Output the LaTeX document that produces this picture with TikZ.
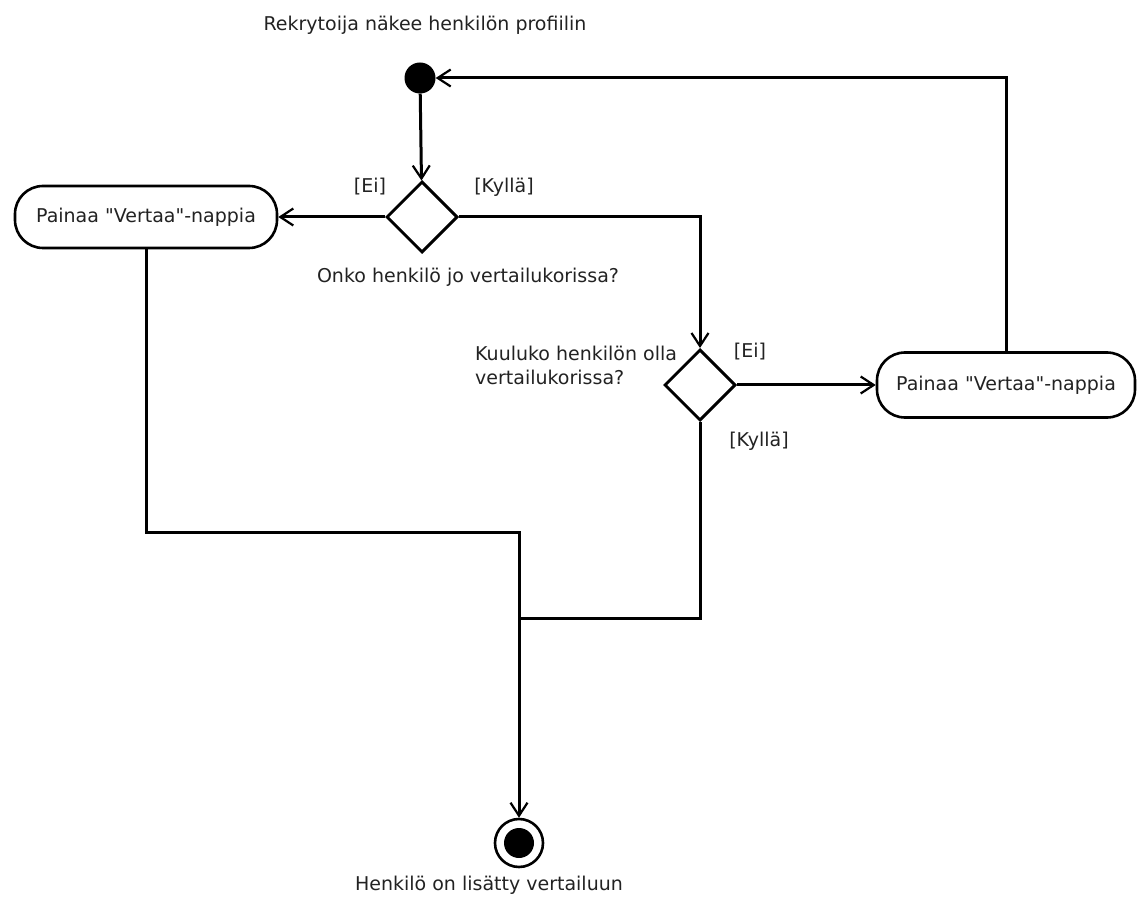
\documentclass[tikz,border=0pt]{standalone}
\usepackage{fontspec}
\setmainfont{DejaVu Sans}[Ligatures=TeXOff]
\usetikzlibrary{arrows.meta,shapes.geometric}
\definecolor{ink}{HTML}{222222}
\tikzset{
  every node/.style={font=\fontsize{19}{24}\selectfont, text=ink},
  line/.style={line width=3pt, draw=black},
  flow/.style={line, -{Straight Barb[length=13pt,width=17pt,line width=2.2pt]}},
  action/.style={draw=black, line width=2.6pt, rounded corners=28pt,
    minimum width=262pt, minimum height=62pt, inner sep=0pt},
  decision/.style={draw=black, line width=3pt, diamond, minimum width=71pt,
    minimum height=71pt, inner sep=0pt},
  startdot/.style={circle, fill=black, minimum size=31pt, inner sep=0pt},
  enddot/.style={circle, draw=black, line width=2.6pt, fill=white,
    minimum size=48pt, inner sep=0pt,
    path picture={\fill[black] (path picture bounding box.center) circle (15pt);}},
  label/.style={inner sep=0pt}
}
\begin{document}
\begin{tikzpicture}[x=1pt,y=-1pt]
\useasboundingbox (0,0) rectangle (1144,909);

% nodes
\node[startdot] (start) at (420,78) {};
\node[label] (title) at (425,25) {Rekrytoija näkee henkilön profiilin};

\node[decision] (d1) at (422,217) {};
\node[label] (d1ei) at (370,187) {[Ei]};
\node[label] (d1ky) at (504,187) {[Kyllä]};
\node[label] (d1q) at (468,277) {Onko henkilö jo vertailukorissa?};

\node[action] (a1) at (146,217) {Painaa "Vertaa"-nappia};

\node[decision] (d2) at (700,385) {};
\node[label] (d2ei) at (750,352) {[Ei]};
\node[label] (d2ky) at (759,441) {[Kyllä]};
\node[label, anchor=north west, align=left] (d2q) at (475,346)
  {Kuuluko henkilön olla\\vertailukorissa?};

\node[action, minimum width=258pt, minimum height=65pt] (a2) at (1006,385)
  {Painaa "Vertaa"-nappia};

\node[enddot] (end) at (519,843) {};
\node[label] (endlbl) at (489,885) {Henkilö on lisätty vertailuun};

\coordinate (j1) at (519,532);
\coordinate (j2) at (519,618);

% connectors
\draw[flow] (start) -- (d1);
\draw[flow] (d1.west) -- (a1.east);
\draw[flow] (d1.east) -| (d2.north);
\draw[flow] (d2.east) -- (a2.west);
\draw[flow] (a2.north) |- (start.east);
\draw[flow] (a1.south) |- (j1) -- (end.north);
\draw[line] (d2.south) |- (j2);
\end{tikzpicture}
\end{document}
